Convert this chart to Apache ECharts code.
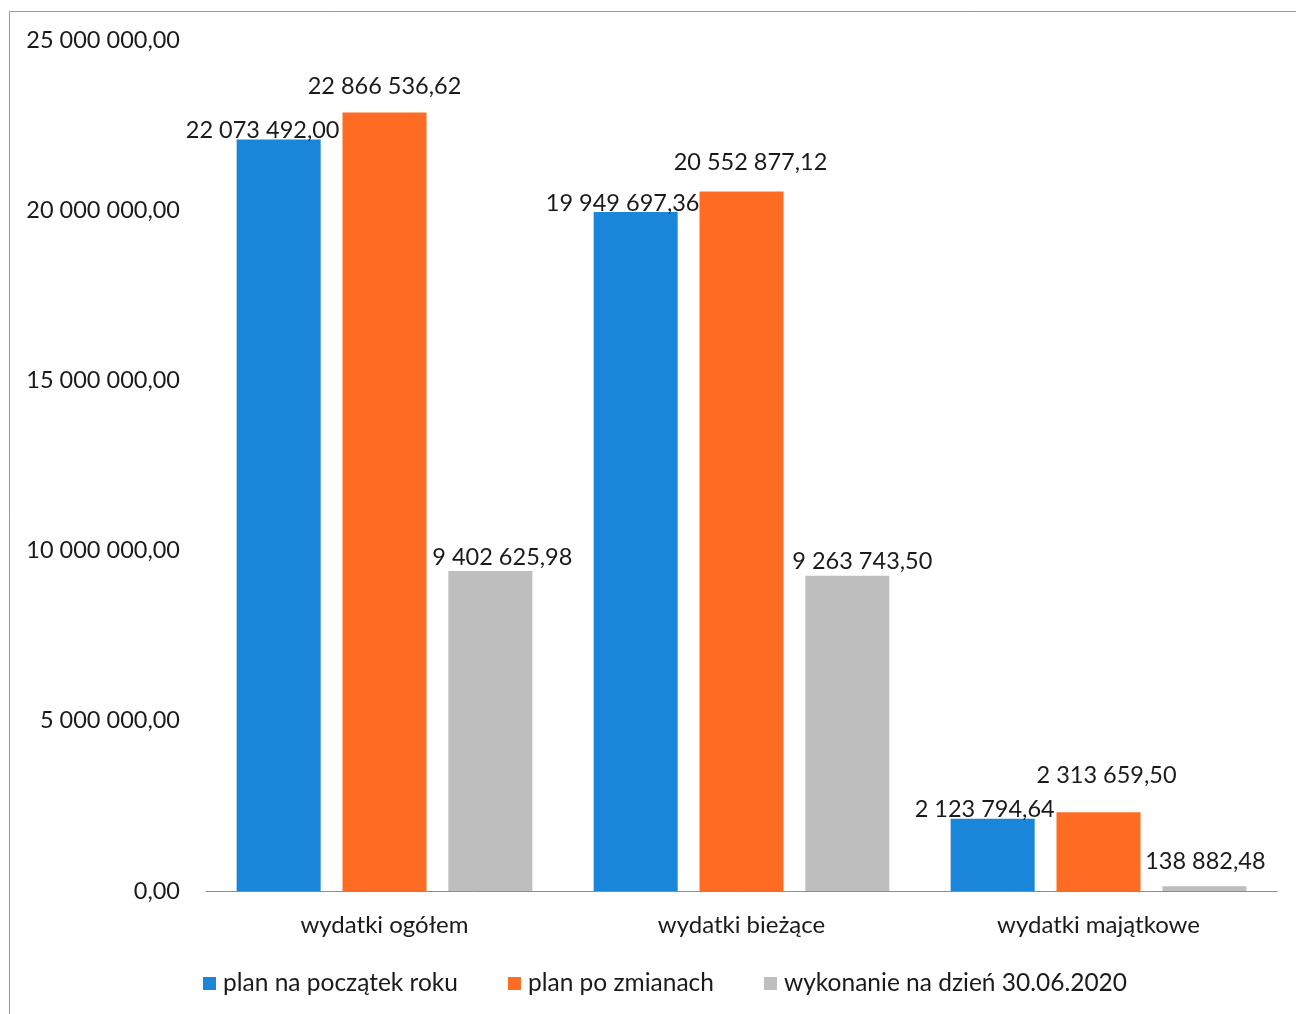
<!DOCTYPE html>
<html>
<head>
<meta charset="utf-8">
<script src="https://cdn.jsdelivr.net/npm/echarts@6/dist/echarts.min.js"></script>
<style>
html,body{margin:0;padding:0;background:#fff;}
#c{width:1296px;height:1014px;}
</style>
</head>
<body>
<div id="c"></div>
<script>
const categories = ['wydatki ogółem', 'wydatki bieżące', 'wydatki majątkowe'];
const seriesNames = ['plan na początek roku', 'plan po zmianach', 'wykonanie na dzień 30.06.2020'];
const planStart = [22073492.00, 19949697.36, 2123794.64];
const planChanged = [22866536.62, 20552877.12, 2313659.50];
const executed = [9402625.98, 9263743.50, 138882.48];
const yTicks = [0, 5000000, 10000000, 15000000, 20000000, 25000000];

// label placement (style only)
const labelOffsets = [
  [[-16, 4], [-13, 5], [-8, 4]],
  [[0, -13], [9, -16], [8, -24]],
  [[12, -1], [15, -1], [1, -12]]
];
const colors = ['#1a86d9', '#fd6c22', '#bebebe'];

function fmt(v) {
  const s = v.toFixed(2);
  let [int, dec] = s.split('.');
  int = int.replace(/\B(?=(\d{3})+(?!\d))/g, ' ');
  return int + ',' + dec;
}

const FONT = 'Lato';
const NUM_SIZE = 23.5;
const TXT_SIZE = 24;
const chart = echarts.init(document.getElementById('c'));
const allData = [planStart, planChanged, executed];
const series = allData.map((d, si) => ({
  name: seriesNames[si],
  type: 'bar',
  barWidth: 84,
  barGap: '26%',
  itemStyle: { color: colors[si] },
  data: d.map((v, i) => ({
    value: v,
    label: { offset: labelOffsets[si][i] }
  })),
  label: {
    show: true,
    position: 'top',
    distance: 0,
    formatter: p => fmt(p.value),
    fontFamily: FONT,
    fontSize: NUM_SIZE,
    lineHeight: 26,
    color: '#1a1a1a'
  }
}));

chart.setOption({
  animation: false,
  backgroundColor: '#fff',
  graphic: [{
    type: 'rect',
    shape: { x: 9.5, y: 11.5, width: 1300, height: 1020 },
    style: { fill: 'none', stroke: '#9a9a9a', lineWidth: 1 },
    silent: true
  }],
  grid: { left: 206, right: 19, top: 40, bottom: 123, containLabel: false },
  legend: {
    data: seriesNames,
    left: 198,
    top: 966,
    icon: 'rect',
    itemWidth: 13,
    itemHeight: 13,
    itemGap: 50,
    textStyle: { fontFamily: FONT, fontSize: 24.5, color: '#1a1a1a', padding: [0, 0, 0, 2] }
  },
  xAxis: {
    type: 'category',
    data: categories,
    axisLine: { lineStyle: { color: '#8c8c8c', width: 1 } },
    axisTick: { show: false },
    axisLabel: { fontFamily: FONT, fontSize: TXT_SIZE, color: '#1a1a1a', margin: 22 }
  },
  yAxis: {
    type: 'value',
    min: yTicks[0],
    max: yTicks[yTicks.length - 1],
    interval: yTicks[1] - yTicks[0],
    axisLine: { show: false },
    axisTick: { show: false },
    splitLine: { show: false },
    axisLabel: { fontFamily: FONT, fontSize: NUM_SIZE, color: '#1a1a1a', margin: 26, formatter: v => fmt(v) }
  },
  series: series
});
</script>
</body>
</html>
